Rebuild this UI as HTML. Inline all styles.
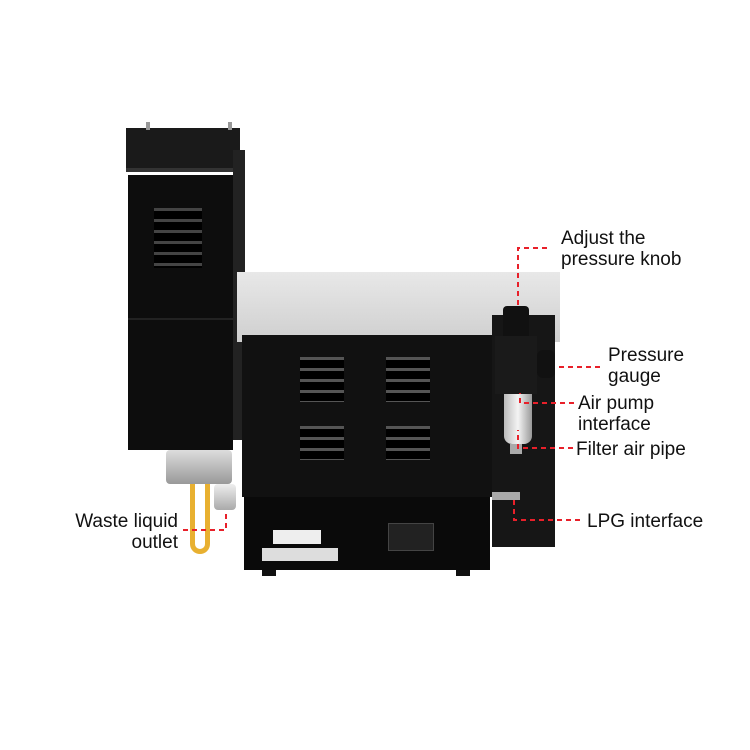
<!DOCTYPE html><html><head><style>
body{margin:0;width:750px;height:750px;background:#fff;position:relative;overflow:hidden;font-family:"Liberation Sans",sans-serif}
div{position:absolute;box-sizing:border-box}
.t{font-size:19px;color:#111;line-height:21px;white-space:nowrap}
</style></head><body>
<div style="left:126px;top:128px;width:114px;height:44px;background:#1a1a1a;border-bottom:4px solid #333"></div>
<div style="left:146px;top:122px;width:4px;height:8px;background:#999"></div>
<div style="left:228px;top:122px;width:4px;height:8px;background:#999"></div>
<div style="left:128px;top:175px;width:105px;height:275px;background:#0d0d0d"></div>
<div style="left:233px;top:150px;width:12px;height:290px;background:#222"></div>
<div style="left:128px;top:318px;width:105px;height:2px;background:#222"></div>
<div style="left:154px;top:208px;width:48px;height:60px;background:repeating-linear-gradient(#444 0 3px,#000 3px 11px)"></div>
<div style="left:166px;top:450px;width:66px;height:34px;background:linear-gradient(#ddd,#999);border-radius:4px"></div>
<div style="left:214px;top:484px;width:22px;height:26px;background:linear-gradient(#eee,#aaa);border-radius:4px"></div>
<div style="left:190px;top:484px;width:20px;height:70px;border:5px solid #e8b030;border-top:none;border-radius:0 0 10px 10px"></div>
<div style="left:237px;top:272px;width:323px;height:70px;background:linear-gradient(#e8e8e8,#cfcfcf)"></div>
<div style="left:242px;top:335px;width:250px;height:162px;background:#111"></div>
<div style="left:244px;top:497px;width:246px;height:73px;background:#0a0a0a"></div>
<div style="left:492px;top:315px;width:63px;height:232px;background:#161616"></div>
<div style="left:300px;top:357px;width:44px;height:45px;background:repeating-linear-gradient(#555 0 3px,#000 3px 11px)"></div>
<div style="left:386px;top:357px;width:44px;height:45px;background:repeating-linear-gradient(#555 0 3px,#000 3px 11px)"></div>
<div style="left:300px;top:426px;width:44px;height:34px;background:repeating-linear-gradient(#555 0 3px,#000 3px 11px)"></div>
<div style="left:386px;top:426px;width:44px;height:34px;background:repeating-linear-gradient(#555 0 3px,#000 3px 11px)"></div>
<div style="left:273px;top:530px;width:48px;height:14px;background:#eee"></div>
<div style="left:262px;top:548px;width:76px;height:13px;background:#ddd"></div>
<div style="left:388px;top:523px;width:46px;height:28px;background:#222;border:1px solid #444"></div>
<div style="left:262px;top:570px;width:14px;height:6px;background:#111"></div>
<div style="left:456px;top:570px;width:14px;height:6px;background:#111"></div>
<div style="left:503px;top:306px;width:26px;height:30px;background:#111;border-radius:4px 4px 0 0"></div>
<div style="left:495px;top:336px;width:42px;height:58px;background:#1a1a1a"></div>
<div style="left:537px;top:350px;width:18px;height:28px;background:#111;border-radius:6px"></div>
<div style="left:504px;top:394px;width:28px;height:50px;background:linear-gradient(90deg,#bbb,#f4f4f4,#999);border-radius:0 0 8px 8px"></div>
<div style="left:510px;top:444px;width:12px;height:10px;background:#aaa"></div>
<div style="left:492px;top:492px;width:28px;height:8px;background:#aaa"></div>
<svg style="position:absolute;left:0;top:0" width="750" height="750"><g fill="none" stroke="#e8202a" stroke-width="2" stroke-dasharray="5,4">
<path d="M547 248H518V305"/><path d="M600 367H555"/><path d="M574 403H520V393"/><path d="M573 448H518V430"/><path d="M580 520H514V500"/><path d="M183 530H226V512"/></g></svg>
<div class="t" style="left:561px;top:228px">Adjust the<br>pressure knob</div>
<div class="t" style="left:608px;top:345px">Pressure<br>gauge</div>
<div class="t" style="left:578px;top:393px">Air pump<br>interface</div>
<div class="t" style="left:576px;top:439px">Filter air pipe</div>
<div class="t" style="left:587px;top:511px">LPG interface</div>
<div class="t" style="left:60px;top:511px;text-align:right;width:118px">Waste liquid<br>outlet</div>
</body></html>
